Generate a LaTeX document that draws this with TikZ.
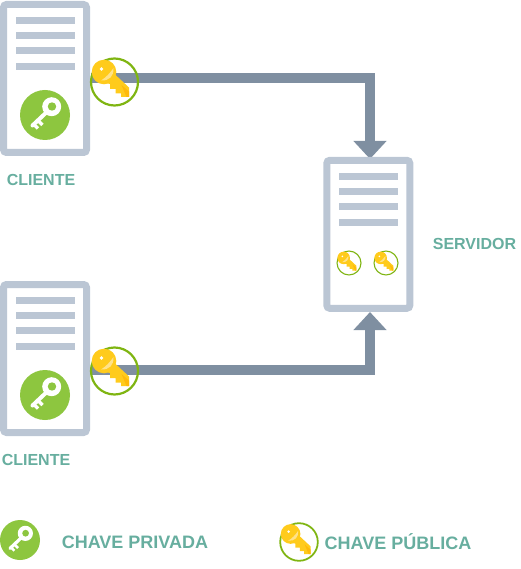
\documentclass[tikz,border=0pt]{standalone}
\usepackage{fontspec}
\setmainfont{Liberation Sans}
\usetikzlibrary{arrows.meta}
\definecolor{caixa}{HTML}{BBC6D4}
\definecolor{seta}{HTML}{7F8FA1}
\definecolor{rotulo}{HTML}{67AE9F}
\definecolor{verde}{HTML}{8DC63F}
\definecolor{anel}{HTML}{7FB512}
\definecolor{ouro}{HTML}{FFCB1C}
\definecolor{ourofundo}{HTML}{FFBA0A}
\definecolor{ouroclaro}{HTML}{FFE28A}
\tikzset{
  servidorbox/.style={draw=caixa, line width=7pt, rounded corners=3pt, fill=white, inner sep=0pt, minimum width=83pt, minimum height=148pt},
  ligacao/.style={draw=seta, line width=10pt, -{Triangle[width=32pt,length=18pt]}},
  rotulobox/.style={text=rotulo, font=\bfseries\fontsize{16}{19}\selectfont, inner sep=0pt, anchor=base},
  legendabox/.style={text=rotulo, font=\bfseries\fontsize{18}{21}\selectfont, inner sep=0pt, anchor=base},
  linhas/.pic={
    \foreach \i in {0,1,2,3}
      \fill[caixa] (0, 15.3*\i) rectangle ++(59, 7);
  },
  chaveprivada/.pic={
    \fill[verde] (0, 0) circle (25);
    \draw[white, line width=4pt*\pgfkeysvalueof{/tikz/tamanho}, line cap=round] (6, -7) -- (-12.5, 10.5);
    \draw[white, line width=3.2pt*\pgfkeysvalueof{/tikz/tamanho}] (-7, 5.5) -- (-2.5, 10);
    \draw[white, line width=3.2pt*\pgfkeysvalueof{/tikz/tamanho}] (-11, 9.5) -- (-7, 13.5);
    \fill[white] (6.7, -8.3) circle (9.5);
    \fill[verde] (7, -8.5) circle (4.2);
  },
  chavepublica/.pic={
    \draw[anel, line width=2.2pt*\pgfkeysvalueof{/tikz/tamanho}] (0, 0) circle (23.5);
    \fill[ouro] (0, -8) -- (14.5, 5.5) -- (14.5, 15) -- (6.5, 15) -- (6.5, 11.5) -- (1, 11.5) -- (1, 7) -- (-4.5, 7) -- (-4.5, 2) -- (-8, 1) -- cycle;
    \fill[ourofundo] (7, 3) -- (14.5, 9.5) -- (14.5, 15) -- (12, 15) -- cycle;
    \fill[ouro] (-10.5, -10) circle (12.3);
    \fill[ouroclaro] (-1, -14) .. controls (-0.5, -6) and (-5, -1) .. (-13.5, -1.5) .. controls (-8.5, -4.5) and (-4.5, -9) .. cycle;
    \fill[white] (-13, -13) circle (1.8);
  },
  tamanho/.initial=1
}
\begin{document}
\begin{tikzpicture}[x=1pt, y=-1pt]
\useasboundingbox (0, 0) rectangle (520, 569);

\coordinate (saida1) at (91, 78);
\coordinate (saida2) at (91, 370);
\coordinate (entrada1) at (370, 159);
\coordinate (entrada2) at (370, 312);

\draw[ligacao] (saida1) -| (entrada1);
\draw[ligacao] (saida2) -| (entrada2);

\node[servidorbox] (cliente1) at (45, 78.5) {};
\node[servidorbox] (cliente2) at (45, 358.5) {};
\node[servidorbox] (servidor) at (368.3, 234.3) {};

\pic at (16, 16.7) {linhas};
\pic at (16, 296.7) {linhas};
\pic at (339, 172.7) {linhas};

\pic at (45, 115) {chaveprivada};
\pic at (45, 395) {chaveprivada};
\pic at (114.5, 82) {chavepublica};
\pic at (114.5, 371) {chavepublica};

\pic[scale=0.51, tamanho=0.5] at (349, 263) {chavepublica};
\pic[scale=0.51, tamanho=0.5] at (386, 263) {chavepublica};

\node[rotulobox] (rotulo1) at (41, 185.5) {CLIENTE};
\node[rotulobox] (rotulo2) at (36, 465) {CLIENTE};
\node[rotulobox] (rotulo3) at (474.5, 249) {SERVIDOR};

\pic[scale=0.8, tamanho=0.8] at (20, 540) {chaveprivada};
\pic[scale=0.8, tamanho=0.8] at (299, 542) {chavepublica};

\node[legendabox] (legenda1) at (135, 548.5) {CHAVE PRIVADA};
\node[legendabox] (legenda2) at (398, 549.5) {CHAVE PÚBLICA};

\end{tikzpicture}
\end{document}
